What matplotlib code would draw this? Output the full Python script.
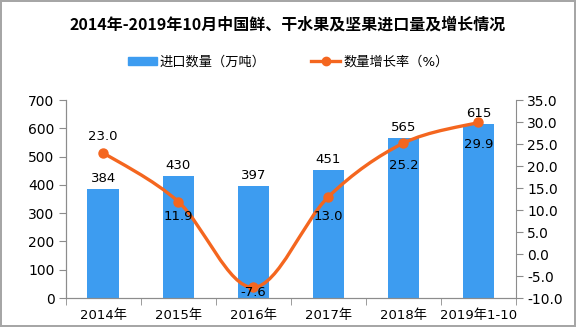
import matplotlib.pyplot as plt
import numpy as np
from matplotlib.path import Path
from matplotlib.patches import PathPatch
from matplotlib.lines import Line2D
from matplotlib.patches import Patch

plt.rcParams['font.family'] = ['DejaVu Sans', 'Noto Sans CJK SC']

# data
years = ['2014年', '2015年', '2016年', '2017年', '2018年', '2019年1-10']
imports = [384, 430, 397, 451, 565, 615]
growth = [23.0, 11.9, -7.6, 13.0, 25.2, 29.9]

bar_color = '#3d9cf0'
line_color = '#f4661f'
axis_color = '#8c8c8c'

fig = plt.figure(figsize=(5.76, 3.27), dpi=100)
fig.patch.set_edgecolor('#a6a6a6')
fig.patch.set_linewidth(1.5)
ax = fig.add_axes([65.7 / 576, 1 - 298 / 327, (516 - 65.7) / 576, 198 / 327])
ax2 = ax.twinx()

x = np.arange(len(years))
bars = ax.bar(x, imports, width=0.42, color=bar_color, zorder=2)
for xi, v in zip(x, imports):
    ax.annotate(str(v), (xi, v), xytext=(0, 3), textcoords='offset points',
                ha='center', va='bottom', fontsize=9.5)

ax.set_xlim(-0.5, len(years) - 0.5)
ax.set_ylim(0, 700)
ax.set_yticks(range(0, 701, 100))
ax2.set_ylim(-10, 35)
ax2.set_yticks(np.arange(-10, 35.1, 5))
ax2.set_yticklabels(['%.1f' % t for t in np.arange(-10, 35.1, 5)])

ax.set_xticks(x)
ax.set_xticklabels(years)
ax.set_xticks(np.arange(-0.5, len(years)), minor=True)
ax.tick_params(axis='x', which='major', length=0, pad=8, labelsize=9.5)
ax.tick_params(axis='x', which='minor', length=5, color=axis_color, direction='out')
ax.tick_params(axis='y', length=5, color=axis_color, labelsize=10, pad=3)
ax2.tick_params(axis='y', length=5, color=axis_color, labelsize=10, pad=3)

for a in (ax, ax2):
    a.spines['top'].set_visible(False)
    for s in ('left', 'right', 'bottom'):
        a.spines[s].set_color(axis_color)
ax.spines['right'].set_visible(False)

# smooth line via Catmull-Rom bezier through the data points
pts = np.column_stack([x, growth]).astype(float)
verts = [pts[0]]
codes = [Path.MOVETO]
n = len(pts)
for i in range(n - 1):
    p0 = pts[max(i - 1, 0)]
    p1 = pts[i]
    p2 = pts[i + 1]
    p3 = pts[min(i + 2, n - 1)]
    c1 = p1 + (p2 - p0) / 6
    c2 = p2 - (p3 - p1) / 6
    verts += [c1, c2, p2]
    codes += [Path.CURVE4] * 3
ax2.add_patch(PathPatch(Path(verts, codes), fill=False, edgecolor=line_color,
                        lw=2.4, zorder=3, capstyle='round'))
ax2.plot(x, growth, 'o', color=line_color, markersize=6.5, zorder=4)

offsets = [12, -11, -4, -14, -16, -16]
for xi, v, off in zip(x, growth, offsets):
    ax2.annotate('%.1f' % v, (xi, v), xytext=(0, off), textcoords='offset points',
                 ha='center', va='center', fontsize=9.5, zorder=5)

fig.text(0.5, 1 - 25 / 327, '2014年-2019年10月中国鲜、干水果及坚果进口量及增长情况',
         ha='center', va='center', fontsize=11.5, fontweight='bold',
         family=['Noto Sans CJK SC'])

handles = [Patch(color=bar_color, label='进口数量（万吨）'),
           Line2D([], [], color=line_color, lw=2.4, marker='o', markersize=6,
                  label='数量增长率（%）')]
fig.legend(handles=handles, loc='center', bbox_to_anchor=(0.5, 1 - 62 / 327),
           ncol=2, frameon=False, fontsize=9.5, handlelength=2.2, handleheight=0.5,
           handletextpad=0.2, columnspacing=3.5)

fig.savefig('out.png', dpi=100, edgecolor=fig.get_edgecolor())
